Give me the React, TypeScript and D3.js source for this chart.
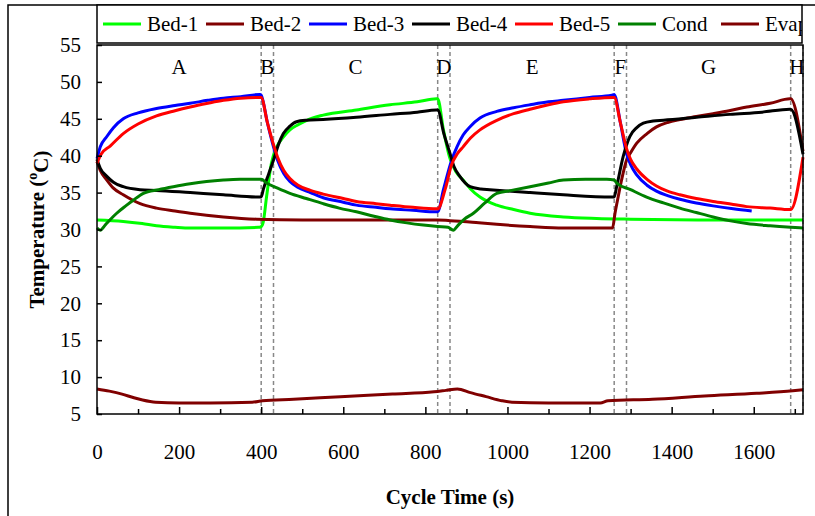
import * as d3 from 'd3';
import React, { useEffect, useRef } from 'react';

// time (s), temperature (oC)
const bed1 = [
  [0, 31.3], [64, 31.1], [110, 30.8], [145, 30.5], [190, 30.3], [227, 30.2], [308, 30.2], [393, 30.3],
  [400, 30.4], [405, 31.0], [413, 34.4], [425, 39.0], [438, 41.2], [455, 42.6], [470, 43.5], [490, 44.2],
  [511, 44.8], [551, 45.5], [632, 46.2], [714, 46.9], [780, 47.3], [827, 47.7], [830, 47.7], [844, 43.5],
  [860, 39.6], [875, 37.8], [892, 36.7], [910, 35.5], [933, 34.4], [974, 33.3], [1015, 32.7], [1055, 32.2],
  [1136, 31.7], [1217, 31.5], [1300, 31.4], [1500, 31.3], [1720, 31.3],
];
const bed2 = [
  [0, 39.2], [8, 38.0], [24, 36.7], [40, 35.6], [64, 34.7], [105, 33.5], [145, 32.9], [190, 32.5],
  [227, 32.2], [308, 31.7], [389, 31.4], [500, 31.3], [700, 31.3], [830, 31.3], [860, 31.2], [892, 31.1],
  [930, 30.9], [974, 30.7], [1055, 30.4], [1136, 30.2], [1256, 30.2], [1262, 32.2], [1270, 34.5],
  [1278, 36.7], [1290, 39.4], [1300, 40.4], [1315, 41.7], [1340, 43.0], [1363, 43.9], [1390, 44.5],
  [1420, 44.9], [1460, 45.3], [1501, 45.7], [1540, 46.1], [1583, 46.6], [1640, 47.1], [1688, 47.7],
  [1690, 47.7], [1720, 40.6],
];
const bed3 = [
  [0, 39.6], [8, 41.2], [24, 42.6], [40, 43.8], [64, 45.0], [100, 45.8], [145, 46.4], [190, 46.8],
  [227, 47.1], [270, 47.5], [308, 47.8], [350, 48.0], [397, 48.3], [400, 48.2], [415, 44.5], [430, 41.2],
  [440, 39.4], [455, 37.6], [470, 36.5], [490, 35.7], [520, 35.0], [551, 34.3], [600, 33.7], [632, 33.3],
  [680, 33.0], [714, 32.8], [770, 32.6], [827, 32.4], [830, 32.4], [844, 35.4], [864, 39.4], [877, 41.2],
  [892, 42.8], [910, 44.0], [933, 45.1], [974, 46.0], [1015, 46.5], [1055, 46.9], [1100, 47.3],
  [1136, 47.5], [1200, 47.9], [1254, 48.2], [1260, 48.3], [1275, 44.5], [1290, 40.3], [1300, 38.8],
  [1315, 37.4], [1340, 36.0], [1363, 35.2], [1390, 34.6], [1420, 34.1], [1460, 33.6], [1501, 33.2],
  [1550, 32.8], [1595, 32.5],
];
const bed4 = [
  [0, 39.5], [8, 38.3], [24, 37.2], [40, 36.4], [64, 35.8], [105, 35.4], [145, 35.3], [227, 35.0],
  [308, 34.7], [397, 34.4], [400, 34.4], [405, 35.4], [418, 37.5], [430, 39.4], [442, 41.5], [454, 43.0],
  [470, 44.0], [486, 44.6], [510, 44.8], [551, 44.9], [632, 45.2], [714, 45.6], [780, 45.9], [827, 46.2],
  [830, 46.2], [845, 43.0], [860, 40.3], [870, 38.5], [884, 37.2], [909, 35.8], [935, 35.5], [957, 35.4],
  [1055, 35.0], [1136, 34.7], [1254, 34.4], [1260, 34.4], [1266, 35.8], [1282, 39.9], [1298, 42.6],
  [1315, 43.8], [1331, 44.4], [1355, 44.7], [1380, 44.8], [1461, 45.2], [1542, 45.6], [1620, 45.9],
  [1688, 46.3], [1690, 46.3], [1720, 40.2],
];
const bed5 = [
  [0, 39.0], [10, 40.2], [32, 41.3], [64, 43.0], [100, 44.3], [145, 45.4], [190, 46.1], [227, 46.6],
  [270, 47.1], [308, 47.5], [350, 47.8], [397, 47.9], [400, 47.9], [415, 44.5], [430, 41.5], [440, 39.8],
  [455, 38.0], [470, 36.9], [490, 36.0], [520, 35.3], [551, 34.8], [600, 34.2], [632, 33.8], [680, 33.5],
  [714, 33.3], [770, 33.0], [827, 32.8], [830, 32.8], [848, 35.4], [864, 38.8], [877, 40.2], [892, 41.2],
  [910, 42.4], [933, 43.5], [974, 44.8], [1015, 45.7], [1055, 46.3], [1100, 46.9], [1136, 47.3],
  [1200, 47.7], [1258, 47.9], [1260, 47.9], [1275, 44.5], [1290, 41.0], [1300, 39.5], [1315, 38.2],
  [1340, 36.8], [1363, 35.9], [1390, 35.2], [1420, 34.7], [1460, 34.2], [1501, 33.8], [1550, 33.4],
  [1583, 33.1], [1640, 32.9], [1688, 32.7], [1690, 32.7], [1720, 39.8],
];
const cond = [
  [0, 30.2], [8, 29.9], [20, 30.6], [35, 31.5], [48, 32.2], [70, 33.2], [89, 34.0], [113, 34.9],
  [150, 35.4], [186, 35.8], [227, 36.2], [267, 36.5], [308, 36.7], [348, 36.8], [389, 36.8], [400, 36.8],
  [413, 36.3], [440, 35.6], [470, 34.9], [510, 34.2], [551, 33.5], [590, 32.9], [632, 32.4], [675, 31.8],
  [714, 31.3], [755, 30.9], [795, 30.6], [830, 30.4], [855, 30.3], [868, 29.9], [880, 30.6], [895, 31.4],
  [917, 32.2], [945, 33.6], [974, 34.9], [1010, 35.3], [1055, 35.8], [1100, 36.3], [1136, 36.7],
  [1190, 36.8], [1242, 36.8], [1260, 36.7], [1266, 36.3], [1300, 35.4], [1339, 34.4], [1380, 33.6],
  [1420, 32.9], [1460, 32.3], [1501, 31.7], [1540, 31.2], [1583, 30.8], [1640, 30.5], [1690, 30.3],
  [1720, 30.2],
];
const evap = [
  [0, 8.4], [30, 8.1], [61, 7.7], [90, 7.2], [111, 6.9], [143, 6.6], [200, 6.5], [276, 6.5], [378, 6.6],
  [403, 6.8], [479, 7.0], [593, 7.35], [720, 7.7], [821, 8.0], [850, 8.2], [878, 8.4], [910, 7.9],
  [948, 7.35], [986, 6.8], [1011, 6.6], [1100, 6.5], [1226, 6.5], [1245, 6.8], [1353, 7.0], [1480, 7.45],
  [1607, 7.8], [1695, 8.15], [1720, 8.3],
];

const seriesNames = ['Bed-1', 'Bed-2', 'Bed-3', 'Bed-4', 'Bed-5', 'Cond', 'Evap'];
const seriesColors = ['#00ff00', '#800000', '#0000ff', '#000000', '#ff0000', '#008000', '#800000'];
const seriesData = [bed1, bed2, bed3, bed4, bed5, cond, evap];

const phaseNames = ['A', 'B', 'C', 'D', 'E', 'F', 'G', 'H'];
const phaseBounds = [0, 400, 430, 830, 860, 1260, 1290, 1690, 1720];

const yTicks = [5, 10, 15, 20, 25, 30, 35, 40, 45, 50, 55];
const xTickLabels = [0, 200, 400, 600, 800, 1000, 1200, 1400, 1600];
const xMinorTicks = [100, 300, 500, 700, 900, 1100, 1300, 1500, 1700];

const FONT = '"Liberation Serif", "Times New Roman", serif';

export default function App() {
  const ref = useRef<SVGSVGElement>(null);

  useEffect(() => {
    const svg = d3.select(ref.current);
    svg.selectAll('*').remove();

    const left = 97, right = 803, top = 45, bottom = 414;

    const x = d3.scaleLinear().domain([0, 1720]).range([left, right]);
    const y = d3.scaleLinear().domain([5, 55]).range([bottom, top]);

    // outer frame (cut by the picture on right and bottom)
    svg.append('rect')
      .attr('x', 8).attr('y', 5).attr('width', 830).attr('height', 540)
      .attr('fill', 'white').attr('stroke', 'black').attr('stroke-width', 1.5);

    // phase separators
    phaseBounds.slice(1).forEach(b => {
      svg.append('line')
        .attr('x1', x(b)).attr('x2', x(b))
        .attr('y1', top).attr('y2', bottom)
        .attr('stroke', '#888').attr('stroke-width', 1.5)
        .attr('stroke-dasharray', '4,3');
    });

    // phase labels
    phaseNames.forEach((n, i) => {
      svg.append('text')
        .attr('x', x((phaseBounds[i] + phaseBounds[i + 1]) / 2))
        .attr('y', 67)
        .attr('dy', '0.35em')
        .attr('text-anchor', 'middle')
        .style('font-family', FONT).style('font-size', '21px')
        .attr('fill', 'black')
        .text(n);
    });

    const line = d3.line<number[]>()
      .x(d => x(d[0]))
      .y(d => y(d[1]))
      .curve(d3.curveMonotoneX);

    seriesData.forEach((s, i) => {
      svg.append('path')
        .attr('d', line(s))
        .attr('fill', 'none')
        .attr('stroke', seriesColors[i])
        .attr('stroke-width', 3)
        .attr('stroke-linejoin', 'round');
    });

    // Y axis
    svg.append('g')
      .attr('transform', `translate(${left},0)`)
      .call(d3.axisLeft(y).tickValues(yTicks).tickSize(-5).tickSizeOuter(0).tickPadding(16))
      .call(g => g.selectAll('line').attr('stroke', 'black').attr('stroke-width', 1.5))
      .call(g => g.select('.domain').remove())
      .selectAll('text')
      .style('font-family', FONT).style('font-size', '21px').attr('fill', 'black');

    // X axis
    svg.append('g')
      .attr('transform', `translate(0,${bottom})`)
      .call(d3.axisBottom(x).tickValues(xMinorTicks).tickSize(-5).tickSizeOuter(0).tickFormat(() => ''))
      .call(g => g.selectAll('line').attr('stroke', 'black').attr('stroke-width', 1.5))
      .call(g => g.select('.domain').remove());

    svg.append('g')
      .attr('transform', `translate(0,${bottom})`)
      .call(d3.axisBottom(x).tickValues(xTickLabels).tickSize(-7).tickSizeOuter(0)
        .tickPadding(30).tickFormat(d3.format('d')))
      .call(g => g.selectAll('line').attr('stroke', 'black').attr('stroke-width', 1.5))
      .call(g => g.select('.domain').remove())
      .selectAll('text')
      .style('font-family', FONT).style('font-size', '21px').attr('fill', 'black');

    // plot frame
    svg.append('rect')
      .attr('x', left).attr('y', top)
      .attr('width', right - left).attr('height', bottom - top)
      .attr('fill', 'none').attr('stroke', 'black').attr('stroke-width', 1.5);

    // axis titles
    svg.append('text')
      .attr('x', (left + right) / 2).attr('y', 497).attr('dy', '0.35em')
      .attr('text-anchor', 'middle')
      .style('font-family', FONT).style('font-size', '21px').attr('font-weight', 'bold')
      .attr('fill', 'black')
      .text('Cycle Time (s)');

    const yt = svg.append('text')
      .attr('transform', `translate(37,${(top + bottom) / 2})rotate(-90)`)
      .attr('dy', '0.35em')
      .attr('text-anchor', 'middle')
      .style('font-family', FONT).style('font-size', '21px').attr('font-weight', 'bold')
      .attr('fill', 'black');
    yt.append('tspan').text('Temperature (');
    yt.append('tspan').style('font-size', '14px').attr('dy', '-0.5em').text('o');
    yt.append('tspan').attr('dy', '0.5em').text('C)');

    // legend
    const legX = left, legY = 5, legW = right - 1 - left, legH = 38;
    svg.append('clipPath').attr('id', 'legclip')
      .append('rect').attr('x', legX).attr('y', legY).attr('width', legW).attr('height', legH);
    svg.append('rect')
      .attr('x', legX).attr('y', legY).attr('width', legW).attr('height', legH)
      .attr('fill', 'white').attr('stroke', 'black').attr('stroke-width', 1.5);
    const legend = svg.append('g').attr('clip-path', 'url(#legclip)');
    seriesNames.forEach((n, i) => {
      const lx = 103 + i * 103;
      legend.append('line')
        .attr('x1', lx).attr('x2', lx + 38)
        .attr('y1', 24).attr('y2', 24)
        .attr('stroke', seriesColors[i]).attr('stroke-width', 3);
      legend.append('text')
        .attr('x', lx + 44).attr('y', 24).attr('dy', '0.35em')
        .style('font-family', FONT).style('font-size', '21px').attr('fill', 'black')
        .text(n);
    });
  }, []);

  return (
    <svg ref={ref} width={815} height={516}
      style={{ position: 'absolute', left: 0, top: 0, background: 'white' }} />
  );
}
